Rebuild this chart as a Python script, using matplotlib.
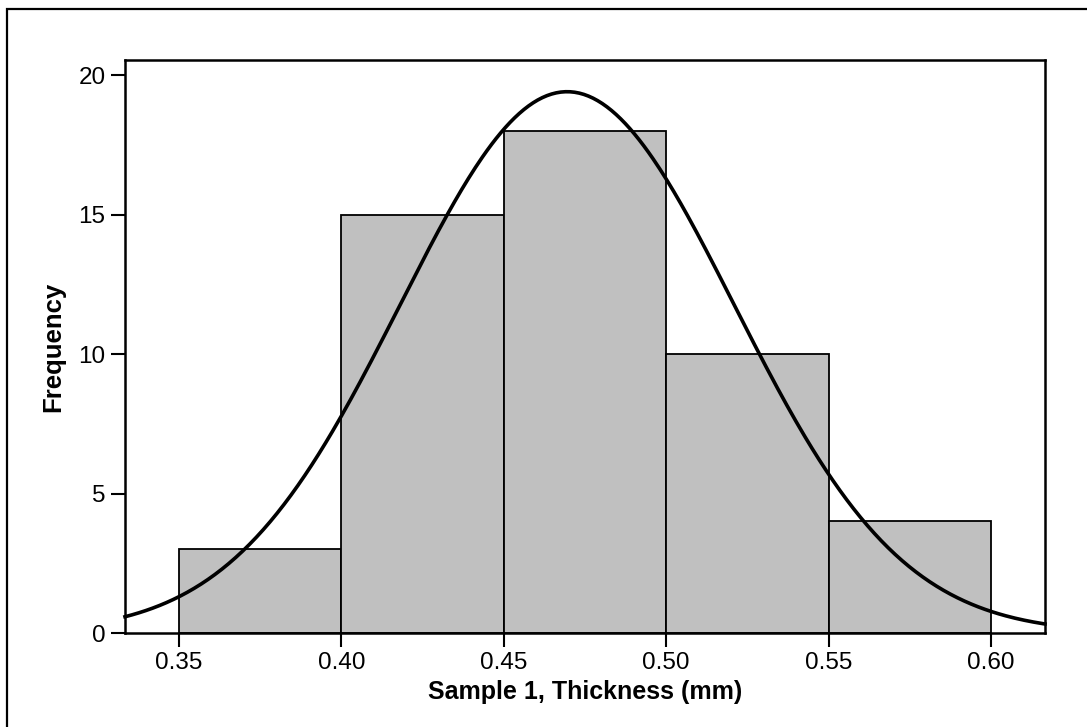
import numpy as np
import matplotlib.pyplot as plt
from matplotlib.patches import Rectangle

# histogram of thickness values (bin edges in mm, counts per bin)
bin_edges = [0.35, 0.40, 0.45, 0.50, 0.55, 0.60]
counts = [3, 15, 18, 10, 4]

# fitted normal curve parameters
fit_mean = 0.4695
fit_sd = 0.0514

xticks = [0.35, 0.40, 0.45, 0.50, 0.55, 0.60]
yticks = [0, 5, 10, 15, 20]

plt.rcParams['font.family'] = ['Liberation Sans', 'DejaVu Sans']

fig = plt.figure(figsize=(10.87, 7.27), dpi=100)
W, H = 1087, 727
ax = fig.add_axes([125 / W, (H - 633) / H, 920 / W, 573 / H])

# outer frame (runs off the right and bottom edges)
fig.patches.append(Rectangle((7 / W, -0.05), 1.1, 1 - 9 / H + 0.05,
                             transform=fig.transFigure, fill=False,
                             edgecolor='black', linewidth=1.6, clip_on=False))

width = bin_edges[1] - bin_edges[0]
ax.bar(bin_edges[:-1], counts, width=width, align='edge',
       color='#c0c0c0', edgecolor='black', linewidth=1.3, zorder=2)

xlim = (0.3334, 0.6166)
x = np.linspace(xlim[0], xlim[1], 400)
n = sum(counts)
y = n * width / (fit_sd * np.sqrt(2 * np.pi)) * np.exp(-0.5 * ((x - fit_mean) / fit_sd) ** 2)
ax.plot(x, y, color='black', linewidth=2.6, zorder=3, clip_on=False)

ax.set_xlim(*xlim)
ax.set_ylim(0, 20.54)
ax.set_xticks(xticks)
ax.set_xticklabels([f'{t:.2f}' for t in xticks])
ax.set_yticks(yticks)

for s in ax.spines.values():
    s.set_linewidth(1.8)
ax.tick_params(direction='out', length=10, width=1.5, labelsize=17.5, pad=4)

ax.set_xlabel('Sample 1, Thickness (mm)', fontsize=18, fontweight='bold', va='center')
ax.set_ylabel('Frequency', fontsize=18.5, fontweight='bold', va='center')
ax.xaxis.set_label_coords(0.5, -(692 - 633) / 573)
ax.yaxis.set_label_coords((53 - 125) / 920, 0.5)

fig.savefig('out.png', dpi=100)
